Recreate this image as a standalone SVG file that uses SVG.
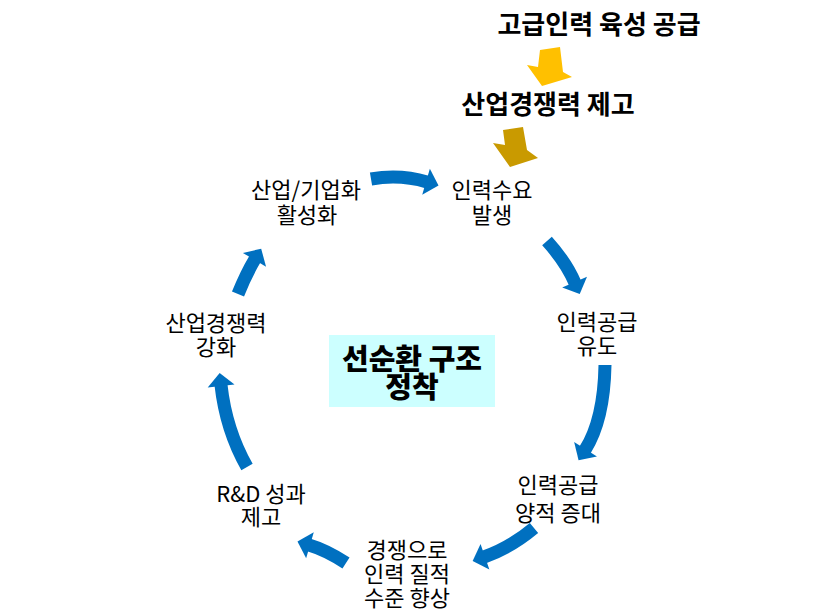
<svg xmlns="http://www.w3.org/2000/svg" width="818" height="616" viewBox="0 0 818 616">
<style>
.lbl{font-family:"Noto Sans CJK KR","Noto Sans",sans-serif;font-size:22px;fill:#000;text-anchor:middle}
.ttl{font-family:"Noto Sans CJK KR","Noto Sans",sans-serif;font-size:26px;font-weight:bold;fill:#000;text-anchor:middle}
.ctr{font-family:"Noto Sans CJK KR","Noto Sans",sans-serif;font-size:29px;font-weight:900;fill:#000;text-anchor:middle}
.conn{fill:none;stroke:#0070C0;stroke-width:13;marker-end:url(#head)}
</style>
<defs>
<marker id="head" markerUnits="userSpaceOnUse" markerWidth="14" markerHeight="27" refX="1" refY="13.5" orient="auto" overflow="visible">
<path d="M0,0 L13,13.5 L0,27 Z" fill="#0070C0"/>
</marker>
</defs>
<rect width="818" height="616" fill="#fff"/>
<g id="title1"><text class="ttl" x="599" y="34">고급인력 육성 공급</text></g>
<g id="arrow-gold1"><polygon points="540,50 560,47 563,72 572,77 542,86 527,65 538,67" fill="#FFC000"/></g>
<g id="title2"><text class="ttl" x="548" y="114">산업경쟁력 제고</text></g>
<g id="arrow-gold2"><polygon points="503,130 523,127 527,150 538,158 510,167 493,143 505,145" fill="#C99A00"/></g>
<g id="connectors">
<path class="conn" d="M371,179 Q400,174 427,182"/>
<path class="conn" d="M547,241 Q566,262 575,283"/>
<path class="conn" d="M605,365 Q604,420 585,450"/>
<path class="conn" d="M534,528 Q510,548 484,557"/>
<path class="conn" d="M346,563 Q326,550 309,545"/>
<path class="conn" d="M247,467 Q226,430 221,385"/>
<path class="conn" d="M238,294 Q246,274 255,259"/>
</g>
<g id="n-demand"><text class="lbl" x="492" y="198">인력수요</text><text class="lbl" x="492" y="223">발생</text></g>
<g id="n-supply"><text class="lbl" x="597" y="330">인력공급</text><text class="lbl" x="597" y="354">유도</text></g>
<g id="n-increase"><text class="lbl" x="558" y="493">인력공급</text><text class="lbl" x="558" y="521">양적 증대</text></g>
<g id="n-quality"><text class="lbl" x="407" y="558">경쟁으로</text><text class="lbl" x="407" y="582">인력 질적</text><text class="lbl" x="407" y="606">수준 향상</text></g>
<g id="n-rnd"><text class="lbl" x="261" y="502">R&amp;D 성과</text><text class="lbl" x="261" y="525">제고</text></g>
<g id="n-compete"><text class="lbl" x="216" y="331">산업경쟁력</text><text class="lbl" x="216" y="355">강화</text></g>
<g id="n-industry"><text class="lbl" x="306" y="198">산업/기업화</text><text class="lbl" x="307" y="223">활성화</text></g>
<g id="center">
<rect x="329" y="335" width="166" height="72" fill="#CCFFFF"/>
<text class="ctr" x="412" y="370">선순환 구조</text>
<text class="ctr" x="412" y="398">정착</text>
</g>
</svg>
